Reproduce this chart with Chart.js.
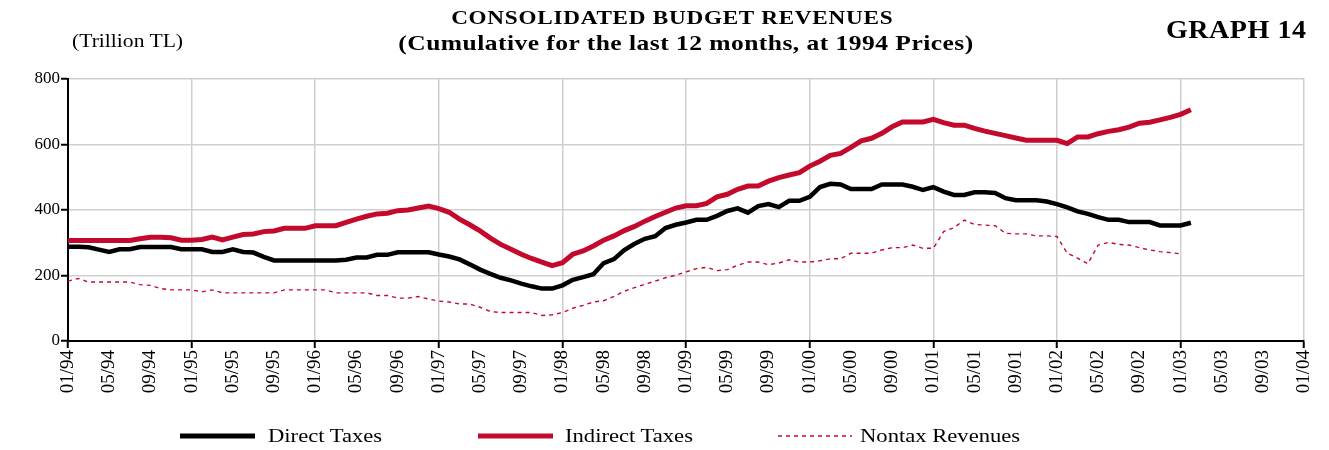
<!DOCTYPE html>
<html>
<head>
<meta charset="utf-8">
<title>Consolidated Budget Revenues</title>
<script src="https://cdn.jsdelivr.net/npm/chart.js@4.4.0/dist/chart.umd.min.js"></script>
<style>
  html, body { margin: 0; padding: 0; background: #fff; }
  #wrap { position: relative; width: 1329px; height: 450px; font-family: 'Liberation Serif', 'DejaVu Serif', serif; color: #000; }
  #chart { position: absolute; left: 0; top: 0; }
  .txt { position: absolute; white-space: nowrap; line-height: 1; }
  .txt span { display: inline-block; }
  .title1 { top: 8px; left: 0; width: 1345px; text-align: center; font-weight: bold; font-size: 19px; letter-spacing: 0.6px; }
  .title1 span { transform: scaleX(1.22); }
  .title2 { top: 32px; left: 0; width: 1372px; text-align: center; font-weight: bold; font-size: 22px; letter-spacing: 0.4px; }
  .title2 span { transform: scaleX(1.16); }
  .unit { top: 32px; left: 72px; font-size: 18px; }
  .unit span { transform: scaleX(1.2); transform-origin: left center; }
  .graph { top: 17px; right: 22px; font-weight: bold; font-size: 25px; letter-spacing: 0.5px; }
  .graph span { transform: scaleX(1.12); transform-origin: right center; }
  .leg { position: absolute; top: 426px; font-size: 19px; line-height: 1; white-space: nowrap; }
  .leg span { display: inline-block; transform: scaleX(1.19); transform-origin: left center; }
</style>
</head>
<body>
<div id="wrap">
  <canvas id="chart" width="1329" height="450"></canvas>
  <div class="txt title1"><span>CONSOLIDATED BUDGET REVENUES</span></div>
  <div class="txt title2"><span>(Cumulative for the last 12 months, at 1994 Prices)</span></div>
  <div class="txt unit"><span>(Trillion TL)</span></div>
  <div class="txt graph"><span>GRAPH 14</span></div>
  <svg width="1329" height="450" style="position:absolute;left:0;top:0;pointer-events:none">
    <line x1="180" y1="436" x2="255" y2="436" stroke="#000" stroke-width="5"/>
    <line x1="478" y1="436" x2="553" y2="436" stroke="#c40a2c" stroke-width="5"/>
    <line x1="778" y1="436" x2="852" y2="436" stroke="#c40a2c" stroke-width="1.5" stroke-dasharray="4 4"/>
  </svg>
  <div class="leg" style="left:268px"><span>Direct Taxes</span></div>
  <div class="leg" style="left:565px"><span>Indirect Taxes</span></div>
  <div class="leg" style="left:860px"><span>Nontax Revenues</span></div>
</div>
<script>
  "use strict";

  // monthly categories 01/94 .. 01/04
  var months = [];
  for (var y = 94; y <= 104; y++) {
    for (var m = 1; m <= 12; m++) {
      if (y === 104 && m > 1) break;
      months.push((m < 10 ? '0' + m : '' + m) + '/' + String(y % 100).padStart(2, '0'));
    }
  }

  // labels shown under the x axis
  var tickLabels = ['01/94', '05/94', '09/94', '01/95', '05/95', '09/95', '01/96', '05/96', '09/96',
    '01/97', '05/97', '09/97', '01/98', '05/98', '09/98', '01/99', '05/99', '09/99',
    '01/00', '05/00', '09/00', '01/01', '05/01', '09/01', '01/02', '05/02', '09/02',
    '01/03', '05/03', '09/03', '01/04'];

  var yTicks = [0, 200, 400, 600, 800];

  // Trillion TL, 01/94 .. 02/03
  var directTaxes = [
    288, 288, 286, 279, 272, 280, 280, 287, 287, 287, 287, 280,
    280, 280, 272, 272, 280, 272, 270, 257, 246, 246, 246, 246,
    246, 246, 246, 248, 255, 255, 263, 263, 271, 271, 271, 271,
    264, 258, 249, 234, 218, 205, 193, 185, 175, 167, 160, 160,
    170, 187, 195, 204, 238, 250, 278, 297, 312, 320, 345, 355,
    362, 370, 370, 382, 397, 405, 392, 412, 418, 409, 428, 428,
    440, 470, 480, 478, 464, 464, 464, 478, 478, 478, 471, 461,
    470, 456, 446, 446, 454, 454, 452, 436, 430, 430, 430, 426,
    418, 408, 396, 388, 378, 370, 370, 363, 363, 363, 353, 353,
    353, 361
  ];

  var indirectTaxes = [
    307, 307, 307, 307, 307, 307, 307, 312, 317, 317, 315, 308,
    308, 310, 317, 309, 317, 325, 327, 334, 336, 344, 344, 344,
    352, 352, 352, 362, 372, 381, 388, 390, 398, 400, 406, 412,
    404, 393, 372, 355, 336, 314, 295, 280, 265, 252, 241, 230,
    239, 265, 275, 290, 308, 321, 337, 350, 366, 380, 393, 406,
    413, 413, 420, 440, 448, 463, 473, 473, 488, 499, 507, 514,
    534, 549, 567, 573, 591, 611, 619, 634, 654, 669, 669, 669,
    677, 667, 659, 659, 649, 641, 634, 627, 620, 613, 613, 613,
    613, 603, 623, 623, 633, 640, 645, 653, 665, 668, 675, 683,
    692, 706
  ];

  var nontaxRevenues = [
    183, 191, 180, 180, 180, 180, 180, 172, 170, 160, 156, 156,
    156, 150, 156, 147, 147, 147, 147, 147, 147, 156, 156, 156,
    156, 156, 147, 147, 147, 147, 139, 139, 131, 131, 136, 128,
    122, 119, 113, 113, 103, 90, 87, 87, 87, 87, 78, 80,
    87, 100, 109, 119, 123, 136, 152, 163, 173, 183, 193, 201,
    211, 221, 225, 215, 218, 231, 241, 241, 233, 238, 248, 241,
    241, 245, 251, 251, 268, 268, 268, 278, 285, 285, 293, 283,
    283, 334, 346, 369, 356, 354, 352, 329, 327, 327, 321, 321,
    319, 268, 253, 236, 293, 301, 295, 293, 285, 278, 273, 270,
    266, null
  ];

  var RED = '#c40a2c';
  var GRID = '#cfcfcf';
  var FONT = "'Liberation Serif', 'DejaVu Serif', serif";

  var ctx = document.getElementById('chart').getContext('2d');
  new Chart(ctx, {
    type: 'line',
    data: {
      labels: months,
      datasets: [{
        label: 'Direct Taxes',
        data: directTaxes,
        borderColor: '#000',
        borderWidth: 4.5,
        pointRadius: 0,
        tension: 0,
        fill: false
      }, {
        label: 'Indirect Taxes',
        data: indirectTaxes,
        borderColor: RED,
        borderWidth: 5,
        pointRadius: 0,
        tension: 0,
        fill: false
      }, {
        label: 'Nontax Revenues',
        data: nontaxRevenues,
        borderColor: RED,
        borderWidth: 1.4,
        borderDash: [4, 4],
        pointRadius: 0,
        tension: 0,
        fill: false
      }]
    },
    options: {
      responsive: false,
      animation: false,
      devicePixelRatio: 1,
      layout: { padding: { left: 0, right: 24, top: 79, bottom: 0 } },
      plugins: {
        legend: { display: false },
        title: { display: false },
        tooltip: { enabled: false }
      },
      scales: {
        x: {
          type: 'category',
          offset: false,
          afterFit: function (scale) { scale.height = 109; },
          border: { display: true, color: '#000', width: 2 },
          grid: {
            color: function (c) { return c.index % 12 === 0 ? GRID : 'rgba(0,0,0,0)'; },
            tickColor: function (c) { return c.index % 12 === 0 ? '#000' : 'rgba(0,0,0,0)'; },
            lineWidth: 1.5,
            tickWidth: 2,
            tickLength: 7
          },
          ticks: {
            autoSkip: false,
            maxRotation: 90,
            minRotation: 90,
            padding: 2,
            color: '#000',
            font: { family: FONT, size: 19 },
            callback: function (v, i) {
              var lab = months[i];
              return tickLabels.indexOf(lab) >= 0 ? lab : '';
            }
          }
        },
        y: {
          min: yTicks[0],
          max: yTicks[yTicks.length - 1],
          afterFit: function (scale) { scale.width = 68; },
          afterBuildTicks: function (scale) {
            scale.ticks = yTicks.map(function (v) { return { value: v }; });
          },
          border: { display: true, color: '#000', width: 2 },
          grid: {
            color: GRID,
            tickColor: '#000',
            lineWidth: 1.5,
            tickWidth: 2,
            tickLength: 7
          },
          ticks: {
            padding: 1,
            color: '#000',
            font: { family: FONT, size: 17 }
          }
        }
      }
    }
  });
</script>
</body>
</html>
